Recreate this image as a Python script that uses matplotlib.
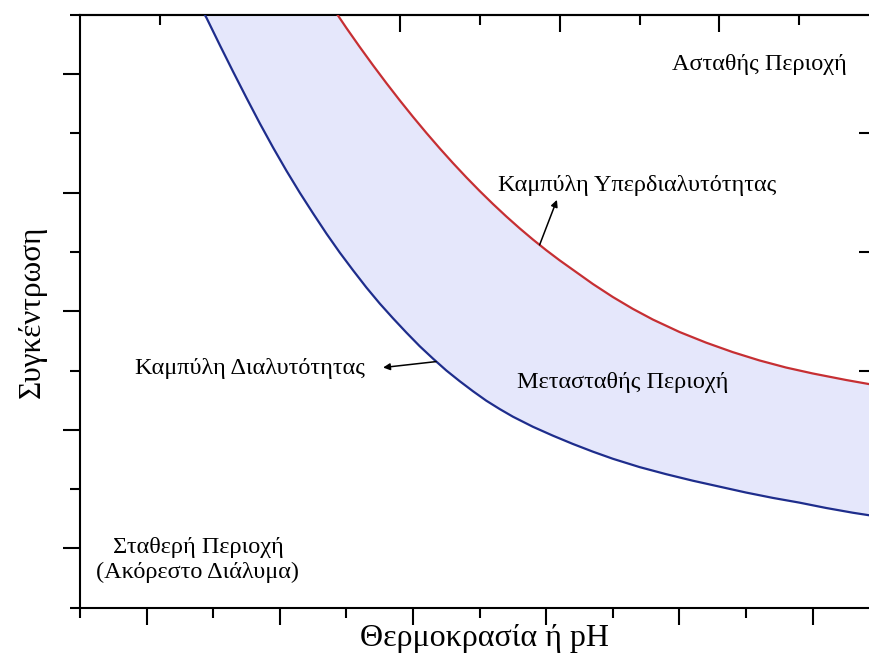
import matplotlib
matplotlib.use("Agg")
from matplotlib import pyplot as plt

plt.rcParams["font.family"] = ["Liberation Serif", "DejaVu Serif"]

# solubility curve (lower, blue)
sol_x = [1.85, 1.9, 2.1, 2.3, 2.5, 2.7, 2.9, 3.1, 3.3, 3.5, 3.7, 3.9, 4.1, 4.3,
         4.5, 4.7, 4.9, 5.1, 5.3, 5.5, 5.7, 5.9, 6.1, 6.3, 6.5, 6.8, 7.1, 7.4,
         7.7, 8.0, 8.4, 8.8, 9.2, 9.6, 10.0, 10.4, 10.8, 11.2, 11.6, 12.0]
sol_y = [10.05, 9.95, 9.49, 9.04, 8.60, 8.17, 7.76, 7.37, 7.00, 6.65, 6.31, 5.99,
         5.69, 5.40, 5.13, 4.88, 4.64, 4.41, 4.20, 4.00, 3.82, 3.65, 3.49, 3.35,
         3.22, 3.05, 2.90, 2.76, 2.63, 2.51, 2.37, 2.25, 2.14, 2.04, 1.94, 1.85,
         1.77, 1.68, 1.60, 1.53]

# supersolubility curve (upper, red)
sup_x = [3.83, 3.85, 4.0, 4.2, 4.4, 4.6, 4.8, 5.0, 5.2, 5.4, 5.6, 5.8, 6.0, 6.2,
         6.4, 6.6, 6.8, 7.0, 7.2, 7.4, 7.7, 8.0, 8.3, 8.6, 9.0, 9.4, 9.8, 10.2,
         10.6, 11.0, 11.5, 12.0]
sup_y = [10.06, 10.03, 9.78, 9.46, 9.15, 8.85, 8.56, 8.28, 8.01, 7.75, 7.50, 7.26,
         7.03, 6.81, 6.60, 6.40, 6.21, 6.03, 5.86, 5.70, 5.46, 5.24, 5.04, 4.86,
         4.65, 4.47, 4.31, 4.17, 4.05, 3.95, 3.84, 3.74]

bottom_major = [1, 3, 5, 7, 9, 11]
bottom_minor = [0, 2, 4, 6, 8, 10]
left_major = [1, 3, 5, 7, 9]
left_minor = [0, 2, 4, 6, 8, 10]
top_major = [2.4, 4.8, 7.2, 9.6]
top_minor = [1.2, 3.6, 6.0, 8.4, 10.8]
right_major = [2, 4, 6, 8]

fig = plt.figure(figsize=(8.7, 6.57), dpi=100)
ax = fig.add_axes([0.09195, 0.07534, 0.91494, 0.90183])
ax.set_xlim(0, 11.95)
ax.set_ylim(0, 10)

# metastable band between the two curves
ax.fill(sol_x + sup_x[::-1], sol_y + sup_y[::-1], color="#E5E7FB", lw=0, zorder=1)
ax.plot(sol_x, sol_y, color="#1E2D8C", lw=1.6, zorder=3)
ax.plot(sup_x, sup_y, color="#C62F33", lw=1.6, zorder=3)

for s in ax.spines.values():
    s.set_linewidth(1.5)

ax.set_xticks(bottom_major)
ax.set_xticks(bottom_minor, minor=True)
ax.set_yticks(left_major)
ax.set_yticks(left_minor, minor=True)
ax.tick_params(which="major", direction="out", length=12, width=1.5,
               labelbottom=False, labelleft=False)
ax.tick_params(which="minor", direction="out", length=7, width=1.5)

top = ax.secondary_xaxis("top")
top.set_xticks(top_major)
top.set_xticks(top_minor, minor=True)
top.tick_params(which="major", direction="in", length=12, width=1.5, labeltop=False)
top.tick_params(which="minor", direction="in", length=7, width=1.5)
top.spines["top"].set_linewidth(1.5)

right = ax.secondary_yaxis("right")
right.set_yticks(right_major)
right.set_yticks([], minor=True)
right.tick_params(which="major", direction="in", length=12, width=1.5, labelright=False)

ax.set_xlabel("Θερμοκρασία ή pH", fontsize=23)
ax.set_ylabel("Συγκέντρωση", fontsize=22.5)
ax.xaxis.set_label_coords(0.508, -0.028)
ax.yaxis.set_label_coords(-0.042, 0.5)

fs = 17.5
ax.text(2.55, 4.04, "Καμπύλη Διαλυτότητας", fontsize=fs, ha="center", va="center")
ax.annotate("", xy=(4.55, 4.05), xytext=(5.345, 4.15),
            arrowprops=dict(arrowstyle="-|>", color="black", lw=1.1, mutation_scale=10,
                            shrinkA=0, shrinkB=0), zorder=4)

ax.text(8.37, 7.13, "Καμπύλη Υπερδιαλυτότητας", fontsize=fs, ha="center", va="center")
ax.annotate("", xy=(7.16, 6.88), xytext=(6.90, 6.12),
            arrowprops=dict(arrowstyle="-|>", color="black", lw=1.1, mutation_scale=10,
                            shrinkA=0, shrinkB=0), zorder=4)

ax.text(10.2, 9.17, "Ασταθής Περιοχή", fontsize=fs, ha="center", va="center")
ax.text(8.15, 3.79, "Μετασταθής Περιοχή", fontsize=fs, ha="center", va="center")
ax.text(1.77, 0.80, "Σταθερή Περιοχή\n(Ακόρεστο Διάλυμα)", fontsize=fs,
        ha="center", va="center", linespacing=1.2)

fig.savefig("out.png", dpi=100)
